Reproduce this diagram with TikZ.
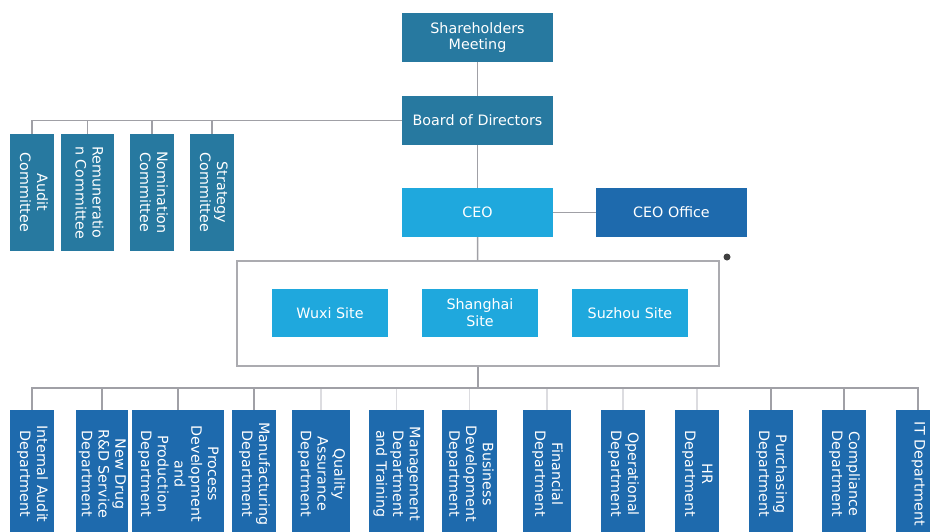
\documentclass[tikz,border=0pt]{standalone}
\usepackage{fontspec}
\setmainfont{DejaVu Sans}
\usepackage{graphicx}

\definecolor{boardblue}{HTML}{2779A0}
\definecolor{ceoblue}{HTML}{1FA8DD}
\definecolor{deptblue}{HTML}{1E6AAD}
\definecolor{linegray}{HTML}{A0A0A6}
\definecolor{faintgray}{HTML}{DCDCE0}
\definecolor{framegray}{HTML}{ABABB0}

\newcommand{\vlabel}[1]{\rotatebox{-90}{\begin{tabular}{@{}c@{}}#1\end{tabular}}}

\begin{document}
\begin{tikzpicture}[x=1pt,y=-1pt,
    font=\fontsize{14.3}{16.8}\selectfont,
    hbox/.style={fill=#1,text=white,align=center,inner sep=0pt,minimum width=151,minimum height=49},
    vbox/.style={fill=#1,text=white,inner sep=0pt,minimum width=44},
    link/.style={draw=linegray,line width=1.5pt},
    faint/.style={draw=faintgray,line width=1.5pt}]
    \clip (0,0) rectangle (930,531);
    \fill[white] (0,0) rectangle (930,531);
    % top of the chart
    \node[hbox=boardblue] (share) at (477.5,37.5) {Shareholders\\Meeting};
    \node[hbox=boardblue] (board) at (477.5,120.5) {Board of Directors};
    \node[hbox=ceoblue] (ceo) at (477.5,212.5) {CEO};
    \node[hbox=deptblue] (office) at (671.5,212.5) {CEO Office};
    % committees
    \node[vbox=boardblue,minimum height=117] (audit) at (32,192.5) {\vlabel{Audit\\Committee}};
    \node[vbox=boardblue,minimum width=53,minimum height=117] (remun) at (87.5,192.5) {\vlabel{Remuneratio\\n Committee}};
    \node[vbox=boardblue,minimum height=117] (nomin) at (152,192.5) {\vlabel{Nomination\\Committee}};
    \node[vbox=boardblue,minimum height=117] (strat) at (212,192.5) {\vlabel{Strategy\\Committee}};
    % sites
    \node[draw=framegray,line width=1.5pt,minimum width=482,minimum height=105] (sites) at (478,313.5) {};
    \node[hbox=ceoblue,minimum width=116,minimum height=48] (wuxi) at (330,313) {Wuxi Site};
    \node[hbox=ceoblue,minimum width=116,minimum height=48] (shanghai) at (480,313) {Shanghai\\Site};
    \node[hbox=ceoblue,minimum width=116,minimum height=48] (suzhou) at (630,313) {Suzhou Site};
    \node[circle,fill=black!75,minimum size=7,inner sep=0pt] (handle) at (727,257) {};
    % departments
    \node[vbox=deptblue,minimum height=128] (audit dept) at (32,474) {\vlabel{Internal Audit\\Department}};
    \node[vbox=deptblue,minimum width=52,minimum height=128] (newdrug) at (102,474) {\vlabel{New Drug\\R\&D Service\\Department}};
    \node[vbox=deptblue,minimum width=92,minimum height=128] (process) at (178,474) {\vlabel{Process\\Development\\and\\Production\\Department}};
    \node[vbox=deptblue,minimum height=128] (manuf) at (254,474) {\vlabel{Manufacturing\\Department}};
    \node[vbox=deptblue,minimum width=58,minimum height=128] (quality) at (321,474) {\vlabel{Quality\\Assurance\\Department}};
    \node[vbox=deptblue,minimum width=55,minimum height=128] (training) at (396.5,474) {\vlabel{Management\\Department\\and Training}};
    \node[vbox=deptblue,minimum width=55,minimum height=128] (business) at (469.5,474) {\vlabel{Business\\Development\\Department}};
    \node[vbox=deptblue,minimum width=48,minimum height=128] (finance) at (547,474) {\vlabel{Financial\\Department}};
    \node[vbox=deptblue,minimum height=128] (operation) at (623,474) {\vlabel{Operational\\Department}};
    \node[vbox=deptblue,minimum height=128] (hr) at (697,474) {\vlabel{HR\\Department}};
    \node[vbox=deptblue,minimum height=128] (purchase) at (771,474) {\vlabel{Purchasing\\Department}};
    \node[vbox=deptblue,minimum height=128] (comply) at (844,474) {\vlabel{Compliance\\Department}};
    \node[vbox=deptblue,minimum height=128] (it) at (918,474) {\vlabel{IT Department}};
    % connectors
    \draw[link] (share) -- (board);
    \draw[link] (board) -- (ceo);
    \draw[link] (ceo) -- (office);
    \draw[link] (ceo) -- (sites);
    \foreach \c in {audit,remun,nomin,strat}
        \draw[link] (board.west) -| (\c.north);
    \coordinate (bus) at (478,388);
    \foreach \d in {quality,training,business,finance,operation,hr}
        \draw[faint] (bus) -| (\d.north);
    \foreach \d in {audit dept,newdrug,process,manuf,purchase,comply,it}
        \draw[link] (bus) -| (\d.north);
    \draw[link] (sites.south) -- (bus);
\end{tikzpicture}
\end{document}
